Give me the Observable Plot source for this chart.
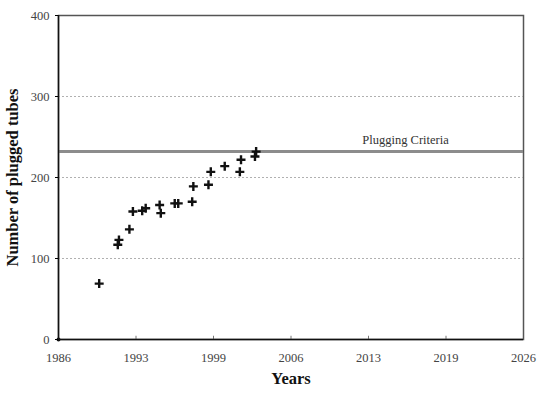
<!DOCTYPE html>
<html>
<head>
<meta charset="utf-8">
<script src="https://cdn.jsdelivr.net/npm/d3@7"></script>
<script src="https://cdn.jsdelivr.net/npm/@observablehq/plot@0.6"></script>
<style>
  html, body { margin: 0; padding: 0; background: #fff; }
  #chart { width: 537px; height: 393px; }
  #chart svg, #chart svg text { font-family: "Liberation Serif", "Times New Roman", serif !important; }
</style>
</head>
<body>
<div id="chart"></div>
<script>
const years = [1989.5, 1991.1, 1991.2, 1992.1, 1992.4, 1993.2, 1993.5, 1994.7, 1994.8, 1996.0, 1996.3,
               1997.5, 1997.6, 1998.9, 1999.1, 2000.3, 2001.6, 2001.7, 2002.9, 2003.0];
const tubes = [69, 117, 123, 136, 158, 159, 162, 166, 156, 168, 168,
               170, 189, 191, 207, 214, 207, 222, 226, 232];
const criterion = 232;
const criterionLabel = "Plugging Criteria";
const xTickLabels = ["1986", "1993", "1999", "2006", "2013", "2019", "2026"];
const yTicks = [0, 100, 200, 300, 400];
const gridLines = [100, 200, 300];

const serif = "Liberation Serif";
const xStart = 1986, xEnd = 2026;
const xTicks = xTickLabels.map((_, i) => xStart + i * (xEnd - xStart) / (xTickLabels.length - 1));
const data = years.map((x, i) => ({x, y: tubes[i]}));

const chart = Plot.plot({
  width: 537,
  height: 393,
  marginLeft: 58,
  marginRight: 14,
  marginTop: 15,
  marginBottom: 54,
  style: {background: "#fff", fontFamily: serif},
  x: {domain: [xStart, xEnd]},
  y: {domain: [0, 400]},
  marks: [
    Plot.frame({stroke: "#555", strokeWidth: 1.5}),
    Plot.ruleY(gridLines, {stroke: "#b0b0b0", strokeDasharray: "2,2"}),
    Plot.ruleY([criterion], {stroke: "#8c8c8c", strokeWidth: 3}),
    Plot.text([criterionLabel], {x: 2015.85, y: criterion, dy: -12, text: d => d, fontSize: 12.5, fill: "#333"}),
    Plot.ruleX(xTicks.slice(1, -1), {y1: 0, y2: 4, stroke: "#777"}),
    Plot.ruleY([0], {stroke: "#111", strokeWidth: 1.5}),
    Plot.ruleX([xStart], {stroke: "#111", strokeWidth: 1.5}),
    Plot.dot(data, {x: "x", y: "y", symbol: "plus", stroke: "#111", strokeWidth: 2.4, r: 3}),
    Plot.dot([{x: xStart, y: 0}], {x: "x", y: "y", fill: "#111", r: 2}),
    Plot.axisX({ticks: xTicks, tickFormat: (d, i) => xTickLabels[i], tickSize: 0, tickPadding: 14,
                fontSize: 12.5, fill: "#444", label: null}),
    Plot.axisY({ticks: yTicks, tickSize: 3, tickPadding: 6, fontSize: 12.5, fill: "#444", label: null}),
    Plot.text(["Years"], {frameAnchor: "bottom", dy: 44, text: d => d, fontSize: 16.5, fontWeight: "bold", fill: "#111"}),
    Plot.text(["Number of plugged tubes"], {frameAnchor: "left", dx: -46, rotate: -90, textAnchor: "middle", text: d => d, fontSize: 16.5, fontWeight: "bold", fill: "#111"})
  ]
});
document.getElementById("chart").appendChild(chart);
</script>
</body>
</html>
